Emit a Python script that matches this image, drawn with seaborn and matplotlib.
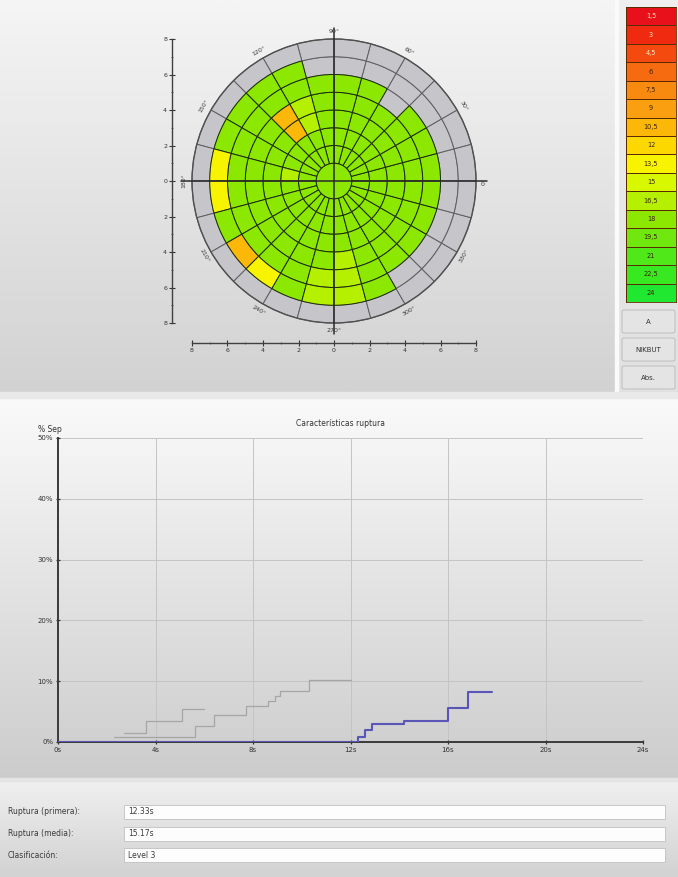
import numpy as np
import matplotlib
matplotlib.use("Agg")
import matplotlib.pyplot as plt
from matplotlib.colors import ListedColormap, BoundaryNorm, to_rgb
from matplotlib.patches import Rectangle, FancyBboxPatch, Circle, Wedge
import seaborn as sns

# ------------------------------------------------------------------ data
scale_levels = [1.5, 3, 4.5, 6, 7.5, 9, 10.5, 12, 13.5, 15, 16.5, 18, 19.5, 21, 22.5, 24]
scale_labels = ["1,5", "3", "4,5", "6", "7,5", "9", "10,5", "12", "13,5", "15",
                "16,5", "18", "19,5", "21", "22,5", "24"]
scale_colors = ["#e8101a", "#f02a10", "#f44a10", "#f66a10", "#f88a10", "#faa010",
                "#fcb808", "#fdd800", "#f8f400", "#d8f800", "#b4f000", "#8ce800",
                "#70e810", "#50e818", "#38e820", "#20e830"]

sector_edges = [0, 15, 30, 45, 60, 75, 90, 105, 120, 135, 150, 165, 180,
                195, 210, 225, 240, 255, 270, 285, 300, 315, 330, 345, 360]
ring_edges = [1, 2, 3, 4, 5, 6, 7, 8]
center_value = 18
N = np.nan
# rows: rings (1-2 ... 7-8); columns: sectors starting at 0 deg, counter-clockwise
ring_1 = [18, 18, 18, 18, 18, 18, 18, 18, 18, 18, 18, 18, 18, 18, 18, 18, 18, 18, 18, 18, 18, 18, 18, 18]
ring_2 = [18, 18, 18, 18, 18, 18, 18, 18, 18, 18, 18, 16.5, 18, 18, 18, 18, 18, 18, 18, 18, 18, 18, 18, 18]
ring_3 = [18, 18, 18, 18, 18, 18, 18, 16.5, 10.5, 18, 18, 18, 18, 18, 18, 18, 18, 18, 18, 18, 18, 18, 18, 18]
ring_4 = [18, 18, 18, 18, 18, 18, 18, 16.5, 10.5, 18, 18, 18, 18, 18, 18, 18, 18, 18, 16.5, 18, 18, 18, 18, 18]
ring_5 = [18, 18, 18, N, 18, 18, 18, 18, 18, 18, 18, 18, 18, 18, 18, 18, 18, 16.5, 16.5, 18, 18, 18, 18, 18]
ring_6 = [N, N, N, N, N, N, N, 18, 18, 18, 18, 13.5, 13.5, 18, 10.5, 13.5, 18, 16.5, 16.5, 18, N, N, N, N]
ring_7 = [N, N, N, N, N, N, N, N, N, N, N, N, N, N, N, N, N, N, N, N, N, N, N, N]
ring_values = [ring_1, ring_2, ring_3, ring_4, ring_5, ring_6, ring_7]

angle_ticks = [0, 30, 60, 90, 120, 150, 180, 210, 240, 270, 300, 330]
angle_labels = ["0°", "30°", "60°", "90°", "120°", "150°", "180°", "210°", "240°", "270°", "300°", "330°"]
axis_ticks = [-8, -6, -4, -2, 0, 2, 4, 6, 8]
axis_minor = [-7, -5, -3, -1, 1, 3, 5, 7]

# break-up curves (time s, % separated)
t_gray_a = [2.7, 3.6, 5.1, 6.0]
p_gray_a = [1.5, 3.4, 5.4, 5.4]
t_gray_b = [2.3, 5.6, 6.4, 7.7, 8.6, 8.9, 9.1, 10.3, 12.0]
p_gray_b = [0.9, 2.7, 4.4, 5.9, 6.8, 7.6, 8.4, 10.2, 10.2]
t_blue = [0, 12.3, 12.6, 12.9, 14.2, 16.0, 16.8, 17.8]
p_blue = [0, 0.9, 1.9, 3.0, 3.4, 5.6, 8.3, 8.3]
x_ticks = [0, 4, 8, 12, 16, 20, 24]
x_tick_labels = ["0s", "4s", "8s", "12s", "16s", "20s", "24s"]
y_ticks = [0, 10, 20, 30, 40, 50]
y_tick_labels = ["0%", "10%", "20%", "30%", "40%", "50%"]

info_labels = ["Ruptura (primera):", "Ruptura (media):", "Clasificación:"]
info_values = ["12.33s", "15.17s", "Level 3"]
button_labels = ["A", "NIKBUT", "Abs."]

# ------------------------------------------------------------------ figure
sns.set_style("white")
plt.rcParams["font.family"] = ["DejaVu Sans"]

W, H, DPI = 678, 877, 100
fig = plt.figure(figsize=(W / DPI, H / DPI), dpi=DPI)


def fbox(x0, y0, x1, y1):
    return [x0 / W, 1 - y1 / H, (x1 - x0) / W, (y1 - y0) / H]


bg = fig.add_axes([0, 0, 1, 1], zorder=-5)
bg.axis("off")


def vgrad(ax, x0, x1, y0, y1, c_top, c_bot):
    t = np.linspace(0, 1, 128)[:, None, None]
    a = np.array(to_rgb(c_top))[None, None, :]
    b = np.array(to_rgb(c_bot))[None, None, :]
    img = a * (1 - t) + b * t
    ax.imshow(img, extent=(x0, x1, y1, y0), aspect="auto", interpolation="bilinear", zorder=0)


vgrad(bg, 0, 616, 0, 392, "#f5f5f5", "#d2d2d2")
vgrad(bg, 616, 678, 0, 392, "#efefef", "#e0e0e0")
bg.add_patch(Rectangle((615, 0), 3, 392, color="#fafafa", zorder=1))
bg.add_patch(Rectangle((0, 392), 678, 6, color="#e9e9e9", zorder=1))
vgrad(bg, 0, 678, 398, 780, "#fafafa", "#cccccc")
vgrad(bg, 0, 678, 780, 877, "#f0f0f0", "#d2d2d2")
bg.add_patch(Rectangle((0, 778), 678, 3, color="#e4e4e4", zorder=1))

for i, (lab, val) in enumerate(zip(info_labels, info_values)):
    yc = 812 + i * 21.5
    bg.add_patch(Rectangle((124, yc - 7), 541, 14, facecolor="#fdfdfd",
                           edgecolor="#c0c0c0", lw=0.6, zorder=2))
    bg.text(8, yc, lab, fontsize=5.5, color="#3a3a3a", va="center", ha="left", zorder=3)
    bg.text(128, yc, val, fontsize=5.5, color="#3a3a3a", va="center", ha="left", zorder=3)

for i, lab in enumerate(button_labels):
    y0 = 310 + i * 28
    bg.add_patch(FancyBboxPatch((622, y0), 53, 23, boxstyle="round,pad=0,rounding_size=2",
                                facecolor="#e4e4e4", edgecolor="#b8b8b8", lw=0.6, zorder=2))
    bg.text(648.5, y0 + 11.5, lab, fontsize=5, color="#333333", ha="center", va="center", zorder=3)

bg.set_xlim(0, W)
bg.set_ylim(H, 0)

# ------------------------------------------------------------------ color scale
cmap = ListedColormap(scale_colors)
bounds = [scale_levels[0] - 0.75] + [v + 0.75 for v in scale_levels]
norm = BoundaryNorm(bounds, cmap.N)

axl = fig.add_axes(fbox(626, 7, 676, 302))
sns.heatmap(np.array(scale_levels).reshape(-1, 1), ax=axl, cmap=cmap, norm=norm,
            cbar=False, annot=np.array(scale_labels).reshape(-1, 1), fmt="",
            annot_kws={"fontsize": 4.8}, linewidths=0.6, linecolor="#5a2a00",
            xticklabels=False, yticklabels=False)
for j, t in enumerate(axl.texts):
    t.set_color("#ffe8c8" if j < 3 else "#3a2400")
for s in axl.spines.values():
    s.set_visible(True)
    s.set_color("#5a2a00")
    s.set_linewidth(0.6)

# ------------------------------------------------------------------ polar map
PX = 17.75
CX, CY = 334, 181
px0, px1, py0, py1 = 140, 530, 12, 378
axp = fig.add_axes(fbox(px0, py0, px1, py1))
axp.set_facecolor("none")
axp.set_xlim((px0 - CX) / PX, (px1 - CX) / PX)
axp.set_ylim((CY - py1) / PX, (CY - py0) / PX)

gray_fc = "#c6c6ca"
for pass_colored in (False, True):
    for i in range(len(ring_edges) - 1):
        r_in, r_out = ring_edges[i], ring_edges[i + 1]
        for k in range(len(sector_edges) - 1):
            v = ring_values[i][k]
            colored = not np.isnan(v)
            if colored != pass_colored:
                continue
            fc = cmap(norm(v)) if colored else gray_fc
            ec = "#1c2a0c" if colored else "#5e5e62"
            axp.add_patch(Wedge((0, 0), r_out, sector_edges[k], sector_edges[k + 1],
                                width=r_out - r_in, facecolor=fc, edgecolor=ec, lw=0.7))
axp.add_patch(Circle((0, 0), ring_edges[0], facecolor=cmap(norm(center_value)),
                     edgecolor="#1c2a0c", lw=0.7))
axp.add_patch(Circle((0, 0), ring_edges[-1], facecolor="none", edgecolor="#505050", lw=1.0))

axp.plot([-8.6, 8.6], [0, 0], color="#2a2a2a", lw=1.1)
axp.plot([0, 0], [-8.6, 8.6], color="#2a2a2a", lw=1.1)

for a, lab in zip(angle_ticks, angle_labels):
    ra = np.deg2rad(a)
    rot = a - 90 if 0 < a <= 180 else (a + 90) % 360
    axp.text(8.45 * np.cos(ra), 8.45 * np.sin(ra), lab, rotation=rot, fontsize=4.5,
             color="#3a3a3a", ha="center", va="center", rotation_mode="anchor")

for side in ("top", "right"):
    axp.spines[side].set_visible(False)
axp.spines["left"].set_position(("data", -9.13))
axp.spines["bottom"].set_position(("data", -9.13))
axp.spines["left"].set_bounds(-8, 8)
axp.spines["bottom"].set_bounds(-8, 8)
for side in ("left", "bottom"):
    axp.spines[side].set_color("#404040")
    axp.spines[side].set_linewidth(1.0)
axp.set_xticks(axis_ticks)
axp.set_xticklabels([str(abs(v)) for v in axis_ticks])
axp.set_yticks(axis_ticks)
axp.set_yticklabels([str(abs(v)) for v in axis_ticks])
axp.set_xticks(axis_minor, minor=True)
axp.set_yticks(axis_minor, minor=True)
axp.tick_params(which="major", length=4, width=0.8, color="#333333", labelsize=4.5,
                labelcolor="#333333", pad=1.5, direction="inout",
                left=True, bottom=True)
axp.tick_params(which="minor", length=2, width=0.6, color="#555555", direction="inout",
                left=True, bottom=True)

# ------------------------------------------------------------------ break-up chart
axc = fig.add_axes(fbox(58, 438, 643, 742))
axc.set_facecolor("none")
sns.lineplot(x=t_gray_a, y=p_gray_a, ax=axc, color="#a6a6a6", lw=0.9,
             drawstyle="steps-post", estimator=None)
sns.lineplot(x=t_gray_b, y=p_gray_b, ax=axc, color="#a6a6a6", lw=0.9,
             drawstyle="steps-post", estimator=None)
sns.lineplot(x=t_blue, y=p_blue, ax=axc, color="#5a56b8", lw=1.5,
             drawstyle="steps-post", estimator=None, zorder=5)
axc.set_xlim(0, 24)
axc.set_ylim(0, 50)
axc.set_xticks(x_ticks)
axc.set_xticklabels(x_tick_labels)
axc.set_yticks(y_ticks)
axc.set_yticklabels(y_tick_labels)
axc.grid(True, color="#c4c4c4", lw=0.7)
for side in ("top", "right"):
    axc.spines[side].set_visible(False)
for side in ("left", "bottom"):
    axc.spines[side].set_color("#3a3a3a")
    axc.spines[side].set_linewidth(1.4)
axc.tick_params(length=3, width=0.9, color="#333333", labelsize=5, labelcolor="#333333",
                pad=2, direction="inout", left=True, bottom=True)
axc.set_xlabel("")
axc.set_ylabel("")

fig.text(340 / W, 1 - 423 / H, "Características ruptura", fontsize=5.5, color="#333333",
         ha="center", va="center")
fig.text(38 / W, 1 - 430 / H, "% Sep", fontsize=5.5, color="#333333", ha="left", va="center")

fig.savefig("out.png", dpi=DPI)
